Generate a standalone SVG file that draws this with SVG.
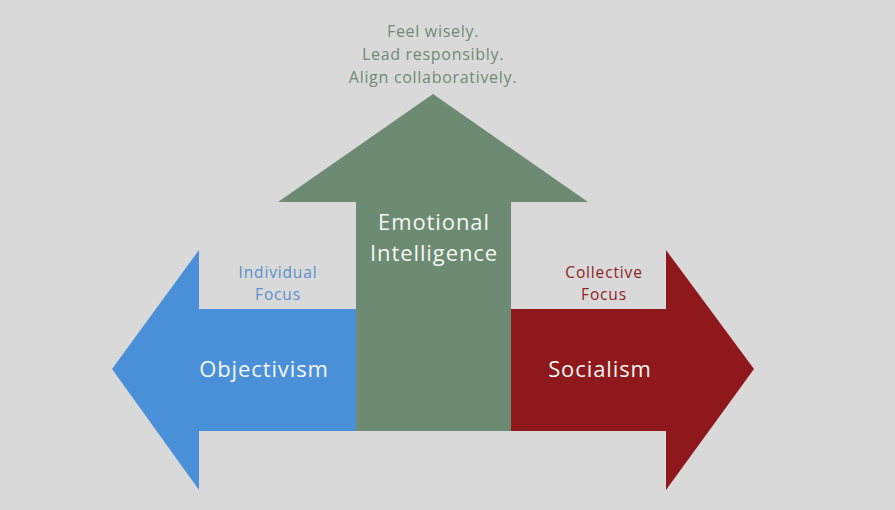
<svg xmlns="http://www.w3.org/2000/svg" width="895" height="510" viewBox="0 0 895 510">
<style>
text{font-family:"Open Sans","Noto Sans","Liberation Sans",sans-serif;text-anchor:middle}
.big{font-size:22px;fill:#f4f7f2;letter-spacing:0.9px}
.small{font-size:15.5px;letter-spacing:0.85px}
.top{font-size:16px;fill:#6f8a75;letter-spacing:0.7px}
</style>
<rect width="895" height="510" fill="#d9d9d9"/>
<g id="left-arrow">
<polygon points="112,369 199,250 199,309 357,309 357,431 199,431 199,490" fill="#4a90d9"/>
<text class="big" x="264" y="377">Objectivism</text>
<text class="small" x="278" y="278" fill="#5a8fcf">Individual</text>
<text class="small" x="278" y="300" fill="#5a8fcf">Focus</text>
</g>
<g id="right-arrow">
<polygon points="754,369 666,250 666,309 510,309 510,431 666,431 666,490" fill="#8f181c"/>
<text class="big" x="600" y="377">Socialism</text>
<text class="small" x="604" y="278" fill="#8f2226">Collective</text>
<text class="small" x="604" y="300" fill="#8f2226">Focus</text>
</g>
<g id="up-arrow">
<polygon points="433,94 588,202 511,202 511,431 356,431 356,202 278,202" fill="#6d8b73"/>
<text class="big" x="434" y="230">Emotional</text>
<text class="big" x="434" y="261">Intelligence</text>
</g>
<g id="motto">
<text class="top" x="433" y="37">Feel wisely.</text>
<text class="top" x="433" y="60">Lead responsibly.</text>
<text class="top" x="433" y="83">Align collaboratively.</text>
</g>
<g id="connectors"/>
</svg>
